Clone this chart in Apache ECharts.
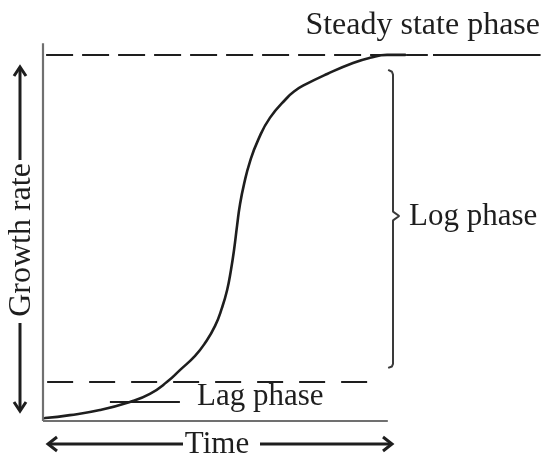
<!DOCTYPE html>
<html>
<head>
<meta charset="utf-8">
<script src="https://cdn.jsdelivr.net/npm/echarts@6/dist/echarts.min.js"></script>
<style>
html,body{margin:0;padding:0;background:#fff;}
#c{width:543px;height:455px;}
</style>
</head>
<body>
<div id="c"></div>
<script>
// Time (x) and growth (y) values of the sigmoid growth curve
var timeValues   = [0.6, 7.8, 16.5, 25.2, 31.0, 36.0, 39.7, 44.1, 47.0, 49.9, 51.9, 53.4, 54.5, 55.4, 56.3, 57.1, 58.3, 60.0, 62.4, 65.8, 70.8, 73.1, 75.4, 82.4, 89.9, 94.8, 99.8, 105.0];
var growthValues = [0.8, 1.6, 3.0, 5.2, 7.4, 10.7, 13.9, 17.8, 21.3, 26.0, 30.9, 35.8, 41.2, 46.7, 53.5, 59.0, 64.7, 70.8, 76.8, 82.8, 88.3, 90.2, 91.6, 94.8, 97.8, 99.2, 100.0, 100.0];
// Phase levels
var steadyLevel = 100;
var lagLevel = 10.65;
// Texts
var labelSteady = 'Steady state phase';
var labelLog = 'Log phase';
var labelLag = 'Lag phase';
var labelX = 'Time';
var labelY = 'Growth rate';

var curve = timeValues.map(function (t, i) { return [t, growthValues[i]]; });
var ink = '#1e1e1e';
var font = '31px "Liberation Serif", "Times New Roman", serif';
var fontBig = '32px "Liberation Serif", "Times New Roman", serif';

var chart = echarts.init(document.getElementById('c'));

function plainLine(data, style) {
  return {
    type: 'line', data: data, showSymbol: false, symbol: 'none', silent: true,
    animation: false, clip: false, lineStyle: style
  };
}

var option = {
  backgroundColor: '#fff',
  animation: false,
  grid: { left: 43, right: 0, top: 0, bottom: 34 },
  xAxis: { type: 'value', min: 0, max: 145, show: false },
  yAxis: { type: 'value', min: 0, max: 115, show: false },
  series: [
    // axes
    plainLine([[0, 0], [100, 0]], { color: '#707070', width: 2.2 }),
    plainLine([[0, 0], [0, 103.2]], { color: '#707070', width: 2.2 }),
    // steady state dashed level and pointer
    plainLine([[0.9, steadyLevel], [111.6, steadyLevel]], { color: ink, width: 2, type: [27, 9] }),
    plainLine([[113.1, steadyLevel], [144.3, steadyLevel]], { color: ink, width: 2 }),
    // lag dashed level
    plainLine([[1.2, lagLevel], [94.0, lagLevel]], { color: ink, width: 2, type: [26, 16] }),
    // lag pointer
    plainLine([[19.4, 5.2], [39.7, 5.2]], { color: ink, width: 2 }),
    // log brace
    plainLine([[100.1, 95.9], [101.2, 95.4], [101.5, 94.6], [101.5, 57.2], [103.3, 56.0], [101.5, 54.8], [101.5, 15.6], [101.2, 14.9], [100.1, 14.5]], { color: '#3a3a3a', width: 2 }),
    // growth curve
    {
      type: 'line', data: curve, showSymbol: false, symbol: 'none', smooth: 0.5,
      clip: false, animation: false,
      lineStyle: { color: ink, width: 2.6, join: 'round', cap: 'round' }
    }
  ],
  graphic: [
    { type: 'text', x: 540, y: 26, style: { text: labelSteady, font: fontBig, fill: ink, align: 'right', verticalAlign: 'middle' } },
    { type: 'text', x: 409, y: 217, style: { text: labelLog, font: font, fill: ink, align: 'left', verticalAlign: 'middle' } },
    { type: 'text', x: 197, y: 397, style: { text: labelLag, font: font, fill: ink, align: 'left', verticalAlign: 'middle' } },
    { type: 'text', x: 217, y: 445, style: { text: labelX, font: font, fill: ink, align: 'center', verticalAlign: 'middle' } },
    { type: 'text', x: 22, y: 240, rotation: Math.PI / 2, style: { text: labelY, font: fontBig, fill: ink, align: 'center', verticalAlign: 'middle' } },
    // Time arrows
    { type: 'polyline', shape: { points: [[183, 444], [48, 444]] }, style: { stroke: ink, lineWidth: 3, fill: null } },
    { type: 'polyline', shape: { points: [[57, 437], [48, 444], [57, 451]] }, style: { stroke: ink, lineWidth: 3, fill: null } },
    { type: 'polyline', shape: { points: [[260, 444], [392, 444]] }, style: { stroke: ink, lineWidth: 3, fill: null } },
    { type: 'polyline', shape: { points: [[383, 437], [392, 444], [383, 451]] }, style: { stroke: ink, lineWidth: 3, fill: null } },
    // Growth rate arrows
    { type: 'polyline', shape: { points: [[20, 160], [20, 67]] }, style: { stroke: ink, lineWidth: 3, fill: null } },
    { type: 'polyline', shape: { points: [[14, 76], [20, 67], [26, 76]] }, style: { stroke: ink, lineWidth: 3, fill: null } },
    { type: 'polyline', shape: { points: [[20, 323], [20, 411]] }, style: { stroke: ink, lineWidth: 3, fill: null } },
    { type: 'polyline', shape: { points: [[14, 402], [20, 411], [26, 402]] }, style: { stroke: ink, lineWidth: 3, fill: null } }
  ]
};
chart.setOption(option);
</script>
</body>
</html>
